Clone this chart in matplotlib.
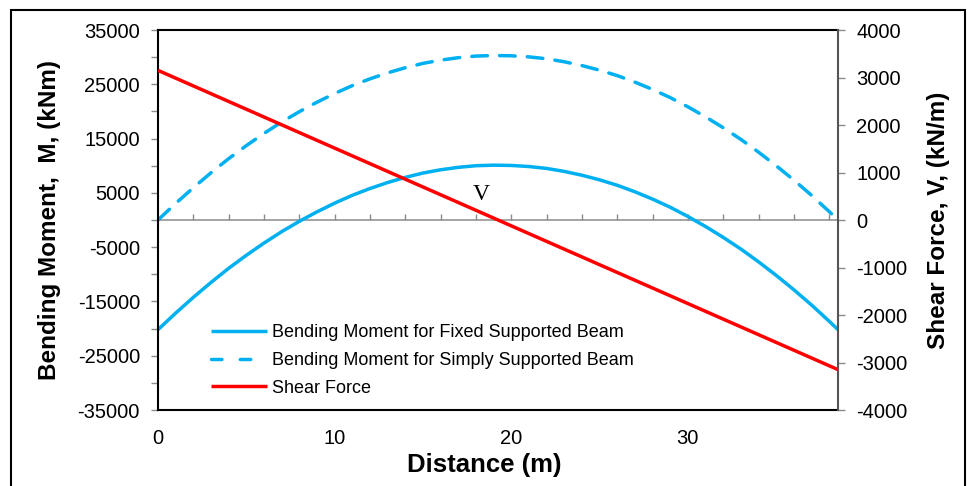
import numpy as np
import matplotlib
matplotlib.use("Agg")
import matplotlib.pyplot as plt
from matplotlib.lines import Line2D
from matplotlib.patches import Rectangle

# values
distance = [0, 1, 2, 3, 4, 5, 6, 7, 8, 9, 10, 11, 12, 13, 14, 15, 16, 17, 18, 19,
            20, 21, 22, 23, 24, 25, 26, 27, 28, 29, 30, 31, 32, 33, 34, 35, 36, 37, 38, 38.5]
moment_fixed = [-20200, -17150, -14250, -11500, -8900, -6500, -4250, -2150, -250, 1500,
                3100, 4550, 5800, 6900, 7850, 8650, 9250, 9700, 10000, 10100,
                10050, 9850, 9500, 8950, 8250, 7400, 6400, 5200, 3850, 2350,
                650, -1200, -3200, -5350, -7700, -10200, -12850, -15650, -18650, -20200]
moment_simple = [0, 3050, 5950, 8700, 11300, 13700, 15950, 18050, 19950, 21700,
                 23300, 24750, 26000, 27100, 28050, 28850, 29450, 29900, 30200, 30300,
                 30250, 30050, 29700, 29150, 28450, 27600, 26600, 25400, 24050, 22550,
                 20850, 19000, 17000, 14850, 12500, 10000, 7350, 4550, 1550, 0]
shear_x = [0, 38.5]
shear = [3150, -3150]

left_ticks = list(range(-35000, 35001, 5000))
left_labels = [str(v) if (v // 5000) % 2 == 1 else "" for v in left_ticks]
right_ticks = list(range(-4000, 4001, 1000))
x_major = [0, 10, 20, 30]
x_minor = list(range(2, 39, 2))

blue = "#00B0F0"
red = "#FF0000"
grey = "#8c8c8c"

plt.rcParams["font.family"] = ["Liberation Sans", "DejaVu Sans"]
plt.rcParams["axes.unicode_minus"] = False

fig = plt.figure(figsize=(9.68, 4.86), dpi=100)
ax = fig.add_axes([158 / 968, 1 - 410 / 486, 680 / 968, 380 / 486])
ax2 = ax.twinx()

l1, = ax.plot(distance, moment_fixed, color=blue, lw=2.5, solid_capstyle="butt")
l2, = ax.plot(distance, moment_simple, color=blue, lw=2.5, dashes=(4.5, 3.5),
              dash_capstyle="round")
l3, = ax2.plot(shear_x, shear, color=red, lw=2.5, solid_capstyle="butt")

# legend proxy with the shorter dash pattern seen in the key
l2_key = Line2D([], [], color=blue, lw=2.5, dashes=(3.0, 5.3), dash_capstyle="round")

# horizontal axis line through zero with small ticks
ax.axhline(0, color=grey, lw=1.1, zorder=1)
ax.plot(x_minor, [0] * len(x_minor), linestyle="none", marker=2, markersize=4,
        markeredgewidth=1.0, color=grey, zorder=1)

ax.set_xlim(0, 38.5)
ax.set_ylim(-35000, 35000)
ax2.set_ylim(-4000, 4000)

ax.set_yticks(left_ticks)
ax.set_yticklabels(left_labels)
ax2.set_yticks(right_ticks)
ax.set_xticks(x_major)

ax.tick_params(axis="y", direction="out", length=5, width=1, color=grey, pad=8, labelsize=14.5)
ax2.tick_params(axis="y", direction="out", length=5, width=1, color=grey, pad=8, labelsize=14.5)
ax.tick_params(axis="x", length=0, pad=14, labelsize=14.5)

for s in ["left", "bottom", "top"]:
    ax.spines[s].set_color("black")
    ax.spines[s].set_linewidth(1.5)
    ax2.spines[s].set_visible(False)
ax.spines["right"].set_visible(False)
ax2.spines["right"].set_color("#555555")
ax2.spines["right"].set_linewidth(1.5)

ax.set_ylabel("Bending Moment,  M, (kNm)", fontsize=17.5, fontweight="bold")
ax.yaxis.set_label_coords(-0.143, 0.5)
ax2.set_ylabel("Shear Force, V, (kN/m)", fontsize=17.5, fontweight="bold")
ax2.yaxis.set_label_coords(1.131, 0.5)
ax.set_xlabel("Distance (m)", fontsize=18.5, fontweight="bold")
ax.xaxis.set_label_coords(0.48, -0.113)

ax.text(18.3, 4700, "V", family="Liberation Serif", fontsize=17, ha="center", va="center")

ax2.legend([l1, l2_key, l3],
           ["Bending Moment for Fixed Supported Beam",
            "Bending Moment for Simply Supported Beam",
            "Shear Force"],
           loc="upper left", bbox_to_anchor=(0.078, 0.226), frameon=False,
           fontsize=13, handlelength=3.1, handletextpad=0.3, labelspacing=0.6,
           borderpad=0, borderaxespad=0)

# outer chart frame
fig.patches.append(Rectangle((11 / 968, -0.1), (965 - 11) / 968, 1.1 - 10 / 486,
                             transform=fig.transFigure, fill=False, lw=1.5,
                             edgecolor="black"))

fig.savefig("out.png", dpi=100)
